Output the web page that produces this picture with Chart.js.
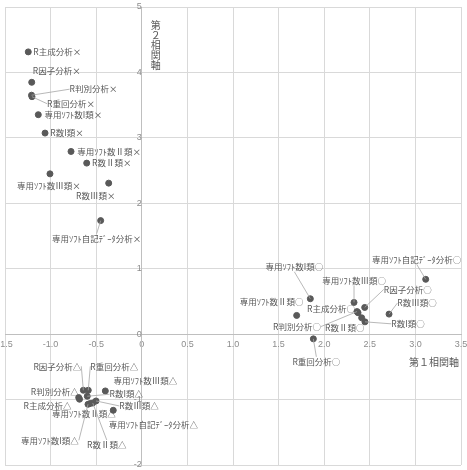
<!DOCTYPE html>
<html>
<head>
<meta charset="utf-8">
<script src="https://cdn.jsdelivr.net/npm/chart.js@4/dist/chart.umd.min.js"></script>
<style>
  html, body { margin: 0; padding: 0; background: #fff; }
  #wrap { width: 467px; height: 470px; }
</style>
</head>
<body>
<div id="wrap"><canvas id="myChart"></canvas></div>
<script>
// point names (×: group 1, ○: group 2, △: group 3)
const pointNames = [
  'R主成分析×', 'R因子分析×', 'R判別分析×', 'R重回分析×', '専用ｿﾌﾄ数I類×', 'R数I類×',
  '専用ｿﾌﾄ数Ⅱ類×', 'R数Ⅱ類×', '専用ｿﾌﾄ数Ⅲ類×', 'R数Ⅲ類×', '専用ｿﾌﾄ自記ﾃﾞｰﾀ分析×',
  '専用ｿﾌﾄ自記ﾃﾞｰﾀ分析○', '専用ｿﾌﾄ数I類○', '専用ｿﾌﾄ数Ⅲ類○', 'R因子分析○', 'R主成分析○', 'R数Ⅲ類○',
  '専用ｿﾌﾄ数Ⅱ類○', 'R数I類○', 'R数Ⅱ類○', 'R判別分析○', 'R重回分析○',
  'R判別分析△', 'R主成分析△', 'R因子分析△', 'R重回分析△', '専用ｿﾌﾄ数Ⅲ類△', 'R数I類△',
  '専用ｿﾌﾄ数Ⅱ類△', '専用ｿﾌﾄ数I類△', 'R数Ⅱ類△', 'R数Ⅲ類△', '専用ｿﾌﾄ自記ﾃﾞｰﾀ分析△'
];
const axis1Values = [
  -1.245, -1.207, -1.209, -1.204, -1.135, -1.061,
  -0.776, -0.604, -1.007, -0.363, -0.451,
  3.113, 1.848, 2.327, 2.444, 2.371, 2.711,
  1.698, 2.447, 2.411, 2.36, 1.881,
  -0.692, -0.683, -0.641, -0.587, -0.400, -0.598,
  -0.568, -0.590, -0.538, -0.502, -0.313
];
const axis2Values = [
  4.314, 3.849, 3.652, 3.629, 3.354, 3.073,
  2.792, 2.614, 2.450, 2.308, 1.735,
  0.838, 0.541, 0.485, 0.408, 0.327, 0.306,
  0.286, 0.188, 0.250, 0.345, -0.072,
  -0.969, -0.995, -0.858, -0.858, -0.868, -0.949,
  -1.061, -1.072, -1.052, -1.021, -1.164
];
// label offsets from the point, in px (label centre)
const labelOffsets = [
  [29, 0], [25, -12], [62, -6], [39, 7], [35, 0], [22, 0],
  [38, 0], [25, 0], [-1, 12], [-13, 13], [-4, 18],
  [-9, -20], [-16, -32], [0, -22], [43, -18], [-27, -4], [28, -11],
  [-25, -14], [43, 2], [-17, 10], [-60, 15], [3, 23],
  [-24, -6], [-32, 7], [-26, -24], [26, -24], [40, -10], [39, -2],
  [-6, 10], [-38, 36], [14, 42], [43, 5], [40, 14]
];
const axis1Title = '第１相関軸';
const axis2Title = '第２相関軸';

const points = axis1Values.map((v, i) => ({ x: v, y: axis2Values[i] }));

const labelPlugin = {
  id: 'pointLabels',
  afterDatasetsDraw(chart) {
    const ctx = chart.ctx;
    const meta = chart.getDatasetMeta(0);
    ctx.save();
    ctx.font = '8.5px "Noto Sans CJK JP", sans-serif';
    ctx.textAlign = 'center';
    ctx.textBaseline = 'middle';
    meta.data.forEach((el, i) => {
      const [dx, dy] = labelOffsets[i];
      const cx = el.x + dx, cy = el.y + dy;
      const w = ctx.measureText(pointNames[i]).width;
      const h = 10;
      const left = cx - w / 2, right = cx + w / 2, top = cy - h / 2, bottom = cy + h / 2;
      const nx = Math.max(left, Math.min(el.x, right));
      const ny = Math.max(top, Math.min(el.y, bottom));
      if (Math.hypot(nx - el.x, ny - el.y) > 10) {
        // leader line to the closest edge middle of the label
        const anchors = [[left, cy], [right, cy], [cx, top], [cx, bottom]];
        let best = anchors[0], bd = Infinity;
        anchors.forEach(a => {
          const d = Math.hypot(a[0] - el.x, a[1] - el.y);
          if (d < bd) { bd = d; best = a; }
        });
        ctx.strokeStyle = '#a6a6a6';
        ctx.lineWidth = 0.8;
        ctx.beginPath();
        ctx.moveTo(el.x, el.y);
        ctx.lineTo(best[0], best[1]);
        ctx.stroke();
      }
      ctx.fillStyle = '#595959';
      ctx.fillText(pointNames[i], cx, cy);
    });
    // axis titles
    const xs = chart.scales.x, ys = chart.scales.y;
    ctx.font = '10px "Noto Sans CJK JP", sans-serif';
    ctx.fillStyle = '#595959';
    ctx.textAlign = 'right';
    ctx.fillText(axis1Title, chart.chartArea.right - 2, ys.getPixelForValue(0) + 28);
    ctx.textAlign = 'center';
    const tx = xs.getPixelForValue(0) + 14;
    Array.from(axis2Title).forEach((ch, k) => {
      ctx.fillText(ch, tx, chart.chartArea.top + 18 + k * 10);
    });
    ctx.restore();
  }
};

const myLineRef = document.getElementById('myChart').getContext('2d');
new Chart(myLineRef, {
  type: 'scatter',
  data: {
    datasets: [{
      data: points,
      backgroundColor: '#595959',
      borderColor: '#595959',
      pointRadius: 3,
      pointHoverRadius: 3
    }]
  },
  options: {
    responsive: true,
    maintainAspectRatio: false,
    animation: false,
    layout: { padding: { left: 5, right: 6, top: 7, bottom: 5 } },
    plugins: { legend: { display: false }, tooltip: { enabled: false } },
    scales: {
      x: {
        type: 'linear',
        min: -1.5, max: 3.5,
        position: { y: 0 },
        ticks: { stepSize: 0.5, color: '#8c8c8c', font: { size: 9 }, padding: 5, maxRotation: 0 },
        grid: { color: '#d9d9d9', drawTicks: false },
        border: { color: '#bfbfbf' },
        afterFit(s) { s.height = 0; s.paddingLeft = 0; s.paddingRight = 0; }
      },
      y: {
        type: 'linear',
        min: -2, max: 5,
        position: { x: 0 },
        ticks: { stepSize: 1, color: '#8c8c8c', font: { size: 9 }, padding: 6 },
        grid: { color: '#d9d9d9', drawTicks: false },
        border: { color: '#bfbfbf' },
        afterFit(s) { s.width = 0; s.paddingTop = 0; s.paddingBottom = 0; }
      }
    }
  },
  plugins: [labelPlugin]
});
</script>
</body>
</html>
